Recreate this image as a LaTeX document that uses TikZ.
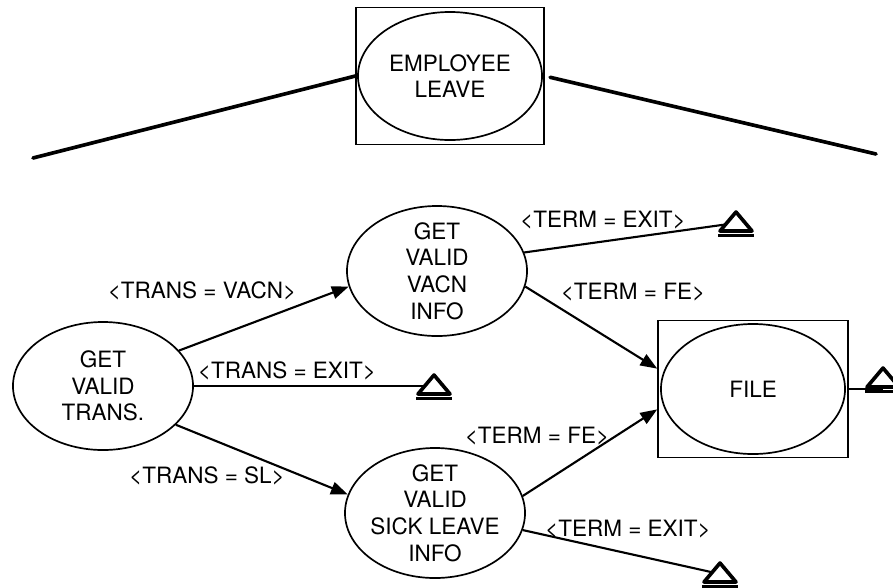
\documentclass[tikz,border=0pt]{standalone}
\usepackage{fontspec}
\setmainfont{TeX Gyre Heros}
\usetikzlibrary{shapes.geometric, arrows.meta, fit}
\tikzstyle{proc} = [ellipse, minimum width=4.5cm, minimum height=3.25cm, inner sep=-8pt, align=center, draw=black, line width=1.2pt]
\tikzstyle{store} = [rectangle, draw=black, line width=1.1pt, inner xsep=1.5pt, inner ysep=2pt]
\tikzstyle{cond} = [inner sep=0pt]
\tikzstyle{line} = [line width=1.5pt]
\tikzstyle{arrow} = [line width=1.5pt, -{Triangle[length=12pt,width=9pt]}]
\tikzstyle{bigline} = [line width=2.6pt, line cap=round]
\tikzset{exitmark/.pic={
  \draw[line width=2.6pt, fill=white, line join=round] (-16,8) -- (0,-11) -- (16,8) -- cycle;
  \draw[line width=2pt] (-18,12.5) -- (18,12.5);
}}

\begin{document}
\begin{tikzpicture}[x=0.025cm, y=-0.025cm, every node/.style={font=\fontsize{16}{19}\selectfont}]
\useasboundingbox (0,0) rectangle (893,587);

\node (leave) [proc, minimum width=4.6cm, minimum height=3.2cm] at (450,76) {EMPLOYEE\\LEAVE};
\node (leavebox) [store, inner xsep=0.7pt, inner ysep=2.5pt, fit=(leave)] {};
\coordinate (lend) at (33,158);
\coordinate (rend) at (876,154);

\node (trans) [proc, minimum height=3.2cm] at (103,386) {GET\\VALID\\TRANS.};
\node (vacn) [proc] at (437,271) {GET\\VALID\\VACN\\INFO};
\node (sick) [proc] at (435,513) {GET\\VALID\\SICK LEAVE\\INFO};
\node (file) [proc, minimum width=4.6cm] at (753,389) {FILE};
\node (filebox) [store, fit=(file)] {};

\coordinate (x1) at (736,223);
\coordinate (x2) at (434,386);
\coordinate (x3) at (720,574);
\coordinate (x4) at (883,379);

% condition labels
\node (ltv) [cond] at (202,291) {<TRANS = VACN>};
\node (lte) [cond] at (287,371) {<TRANS = EXIT>};
\node (lts) [cond] at (207,476) {<TRANS = SL>};
\node (lve) [cond] at (603,220) {<TERM = EXIT>};
\node (lvf) [cond] at (633,292) {<TERM = FE>};
\node (lsf) [cond] at (537,436) {<TERM = FE>};
\node (lse) [cond] at (628,529) {<TERM = EXIT>};

\draw [bigline] (leavebox.west) -- (lend);
\draw [bigline, shorten <=4pt] (leavebox.east) -- (rend);
\draw [arrow] (trans.25) -- (vacn.190);
\draw [line] (trans.east) -- (x2);
\draw [arrow] (trans.-28) -- (sick.168);
\draw [line] (vacn.12) -- (x1);
\draw [arrow] (vacn.-10) -- (filebox.168);
\draw [arrow] (sick.11) -- (filebox.192);
\draw [line] (sick.-11) -- (x3);
\draw [line] (filebox.east) -- (filebox.east -| x4);

\pic at (x1) {exitmark};
\pic at (x2) {exitmark};
\pic at (x3) {exitmark};
\pic at (x4) {exitmark};

\end{tikzpicture}
\end{document}
